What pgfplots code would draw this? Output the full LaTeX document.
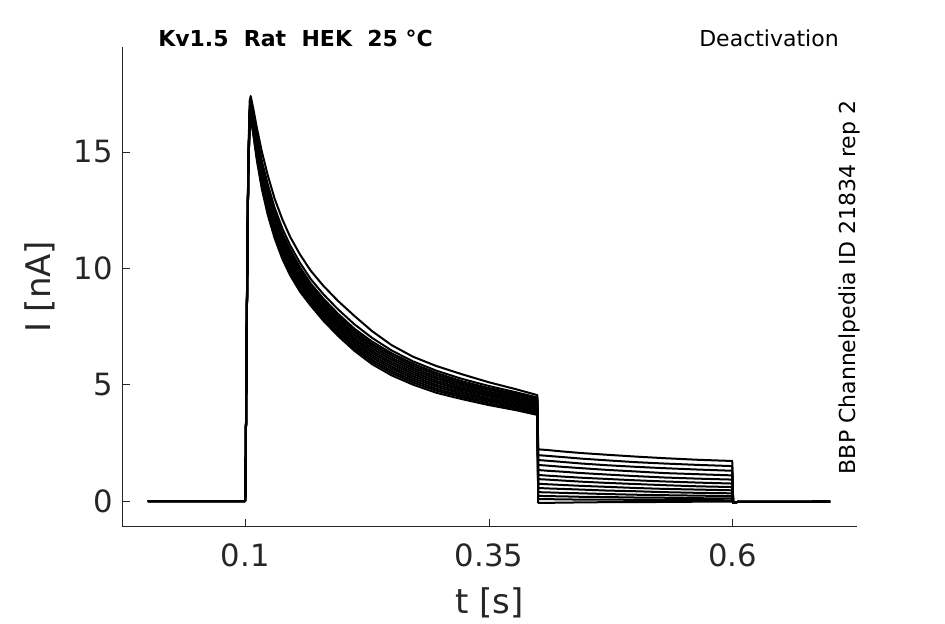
\documentclass[border=0pt]{standalone}
\usepackage{pgfplots}
\pgfplotsset{compat=1.18}
\usepackage{pgfplotstable}
\usepackage{fontspec}
\setmainfont{DejaVu Sans}
\definecolor{axgray}{RGB}{38,38,38}
\pgfplotstableread{
t c1 c2 c3 c4 c5 c6 c7 c8 c9 c10 c11 c12 c13
0.000 0 0 0 0 0 0 0 0 0 0 0 0 0
0.0998 0 0 0 0 0 0 0 0 0 0 0 0 0
0.1002 0.5 0.5 0.5 0.5 0.5 0.5 0.5 0.5 0.5 0.5 0.5 0.5 0.5
0.1015 8.0 7.9 7.8 7.77 7.74 7.71 7.68 7.65 7.62 7.59 7.56 7.53 7.5
0.103 14.6 14.4 14.3 14.27 14.24 14.21 14.18 14.15 14.12 14.09 14.06 14.03 14.0
0.1045 17.2 16.95 16.8 16.75 16.7 16.65 16.6 16.55 16.5 16.45 16.4 16.35 16.3
0.1055 17.4 17.15 17.0 16.95 16.9 16.85 16.8 16.75 16.7 16.65 16.6 16.55 16.5
0.108 16.9 16.64 16.5 16.43 16.36 16.29 16.22 16.15 16.08 16.01 15.94 15.87 15.8
0.112 16.0 15.68 15.5 15.41 15.32 15.23 15.14 15.05 14.96 14.87 14.78 14.69 14.6
0.117 15.0 14.61 14.4 14.3 14.2 14.1 14.0 13.9 13.8 13.7 13.6 13.5 13.4
0.123 14.0 13.61 13.4 13.29 13.18 13.07 12.96 12.85 12.74 12.63 12.52 12.41 12.3
0.130 13.0 12.61 12.4 12.29 12.18 12.07 11.96 11.85 11.74 11.63 11.52 11.41 11.3
0.138 12.1 11.71 11.5 11.39 11.28 11.17 11.06 10.95 10.84 10.73 10.62 10.51 10.4
0.146 11.35 10.99 10.8 10.69 10.58 10.47 10.36 10.25 10.14 10.03 9.92 9.81 9.7
0.156 10.6 10.24 10.05 9.95 9.84 9.74 9.63 9.53 9.42 9.32 9.21 9.11 9.0
0.167 9.9 9.54 9.35 9.26 9.16 9.07 8.97 8.88 8.78 8.69 8.59 8.5 8.4
0.180 9.25 8.89 8.7 8.61 8.51 8.42 8.32 8.23 8.13 8.04 7.94 7.85 7.75
0.195 8.6 8.24 8.05 7.96 7.86 7.77 7.67 7.58 7.48 7.39 7.29 7.2 7.1
0.212 7.95 7.59 7.4 7.31 7.21 7.12 7.02 6.93 6.83 6.74 6.64 6.55 6.45
0.230 7.3 7.01 6.85 6.75 6.66 6.56 6.46 6.37 6.27 6.17 6.07 5.98 5.88
0.250 6.7 6.47 6.35 6.26 6.16 6.07 5.97 5.88 5.78 5.69 5.59 5.5 5.4
0.272 6.2 6.0 5.9 5.81 5.72 5.63 5.54 5.45 5.36 5.27 5.18 5.09 5.0
0.296 5.8 5.6 5.5 5.42 5.33 5.25 5.16 5.08 4.99 4.91 4.82 4.74 4.65
0.322 5.45 5.25 5.15 5.07 5.0 4.92 4.84 4.77 4.69 4.61 4.53 4.46 4.38
0.350 5.1 4.94 4.85 4.78 4.7 4.63 4.56 4.49 4.41 4.34 4.27 4.19 4.12
0.378 4.8 4.67 4.6 4.53 4.46 4.39 4.32 4.25 4.18 4.11 4.04 3.97 3.9
0.3995 4.55 4.45 4.4 4.33 4.26 4.19 4.12 4.05 3.98 3.91 3.84 3.77 3.7
0.4005 2.22 1.97 1.76 1.55 1.33 1.12 0.94 0.74 0.56 0.38 0.22 0.08 -0.08
0.410 2.19 1.94 1.73 1.52 1.30 1.09 0.92 0.72 0.54 0.37 0.21 0.08 -0.08
0.425 2.13 1.89 1.68 1.47 1.26 1.05 0.88 0.69 0.52 0.35 0.20 0.07 -0.07
0.445 2.06 1.82 1.61 1.41 1.20 1.00 0.83 0.65 0.49 0.33 0.18 0.06 -0.06
0.470 1.99 1.75 1.54 1.34 1.14 0.95 0.78 0.61 0.45 0.30 0.17 0.06 -0.05
0.500 1.91 1.67 1.47 1.27 1.07 0.89 0.73 0.56 0.42 0.27 0.15 0.05 -0.05
0.530 1.84 1.61 1.41 1.20 1.01 0.84 0.68 0.52 0.38 0.25 0.14 0.04 -0.04
0.565 1.77 1.55 1.35 1.15 0.96 0.79 0.63 0.49 0.35 0.23 0.12 0.04 -0.03
0.5995 1.72 1.50 1.30 1.10 0.92 0.75 0.60 0.46 0.33 0.21 0.11 0.03 -0.03
0.6005 -0.08 -0.08 -0.08 -0.08 -0.08 -0.08 -0.08 -0.08 -0.08 -0.08 -0.08 -0.08 -0.08
0.605 -0.04 -0.04 -0.04 -0.04 -0.04 -0.04 -0.04 -0.04 -0.04 -0.04 -0.04 -0.04 -0.04
0.700 -0.03 -0.03 -0.03 -0.03 -0.03 -0.03 -0.03 -0.03 -0.03 -0.03 -0.03 -0.03 -0.03
}\data

\begin{document}
\begin{tikzpicture}
\begin{axis}[
  at={(0,0)}, anchor=south west,
  scale only axis, width=550.8pt, height=359.8pt,
  xmin=-0.0262, xmax=0.7272, ymin=-1.104, ymax=19.51,
  axis x line*=bottom, axis y line*=left,
  axis line style={axgray, line width=0.6pt, -},
  xtick={0.1,0.35,0.6}, xticklabels={0.1,0.35,0.6},
  ytick={0,5,10,15}, yticklabels={0,5,10,15},
  tick align=inside, major tick length=5.5pt,
  tick style={axgray, line width=0.6pt},
  ticklabel style={font=\fontsize{23}{27}\selectfont, text=axgray},
  xticklabel style={yshift=-9.5pt},
  yticklabel style={xshift=-3.6pt},
  /pgf/number format/assume math mode=true,
  xlabel={t [s]}, ylabel={I [nA]},
  label style={font=\fontsize{25.5}{30}\selectfont, text=axgray},
  xlabel style={at={([yshift=-57.2pt]axis description cs:0.5,0)}, anchor=center},
  ylabel style={at={([xshift=-61.7pt]axis description cs:0,0.5)}, anchor=center},
]
\pgfplotsinvokeforeach{1,...,13}{
  \addplot[black, line width=1.5pt, line join=round] table[x=t, y=c#1] {\data};
}
\end{axis}
\begin{scope}[x=0.75pt, y=0.75pt]
\node[anchor=base west, inner sep=0pt, font=\bfseries\fontsize{16.5}{20}\selectfont] at (35.7,479.7) {Kv1.5\ \ Rat\ \ HEK\ \ 25 °C};
\node[anchor=base east, inner sep=0pt, font=\fontsize{16.5}{20}\selectfont] at (716.7,479.7) {Deactivation};
\node[rotate=90, anchor=center, inner sep=0pt, font=\fontsize{16.5}{20}\selectfont] at (726.7,239.2) {BBP Channelpedia ID 21834 rep 2};
\pgfresetboundingbox
\path[use as bounding box] (-122.3,-97.3) rectangle (822.7,526.7);
\end{scope}
\end{tikzpicture}
\end{document}
